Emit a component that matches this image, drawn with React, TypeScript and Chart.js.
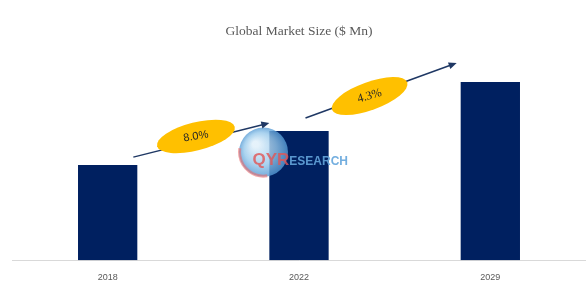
import React, { useEffect, useRef } from "react";
import { Chart, registerables } from "chart.js";

Chart.register(...registerables);

const categories = ["2018", "2022", "2029"];
const marketSize = [95, 129, 178];
const growthLabels = ["8.0%", "4.3%"];
const titleText = "Global Market Size ($ Mn)";

const NAVY = "#002060";
const GOLD = "#FFC000";

function arrow(ctx: CanvasRenderingContext2D, x1: number, y1: number, x2: number, y2: number) {
  const ang = Math.atan2(y2 - y1, x2 - x1);
  ctx.save();
  ctx.strokeStyle = "#1F3864";
  ctx.fillStyle = "#1F3864";
  ctx.lineWidth = 1.5;
  ctx.beginPath();
  ctx.moveTo(x1, y1);
  ctx.lineTo(x2 - 6 * Math.cos(ang), y2 - 6 * Math.sin(ang));
  ctx.stroke();
  ctx.translate(x2, y2);
  ctx.rotate(ang);
  ctx.beginPath();
  ctx.moveTo(0, 0);
  ctx.lineTo(-8, -3.5);
  ctx.lineTo(-8, 3.5);
  ctx.closePath();
  ctx.fill();
  ctx.restore();
}

function bubble(ctx: CanvasRenderingContext2D, cx: number, cy: number, ang: number, text: string, font: string, textAng: number) {
  ctx.save();
  ctx.translate(cx, cy);
  ctx.rotate(ang);
  ctx.fillStyle = GOLD;
  ctx.beginPath();
  ctx.ellipse(0, 0, 40, 14, 0, 0, Math.PI * 2);
  ctx.fill();
  ctx.restore();
  ctx.save();
  ctx.translate(cx, cy);
  ctx.rotate(textAng);
  ctx.fillStyle = "#262626";
  ctx.font = font;
  ctx.textAlign = "center";
  ctx.textBaseline = "middle";
  ctx.fillText(text, 0, 0);
  ctx.restore();
}

const overlayPlugin = {
  id: "overlay",
  afterDatasetsDraw(chart: any) {
    const ctx: CanvasRenderingContext2D = chart.ctx;
    const els = chart.getDatasetMeta(0).data;
    if (!els || els.length < 3) return;
    const area = chart.chartArea;
    const b = els.map((e: any) => ({ x: e.x, top: e.y, left: e.x - e.width / 2, right: e.x + e.width / 2 }));

    // watermark
    const wx = (area.left + area.right) / 2 - 35.5;
    const wy = (area.top + area.bottom) / 2 - 8;
    ctx.save();
    const g = ctx.createRadialGradient(wx - 8, wy - 8, 3, wx, wy, 25);
    g.addColorStop(0, "rgba(225,240,250,0.85)");
    g.addColorStop(0.6, "rgba(150,200,235,0.8)");
    g.addColorStop(1, "rgba(80,150,210,0.8)");
    ctx.fillStyle = g;
    ctx.beginPath();
    ctx.arc(wx, wy, 24.5, 0, Math.PI * 2);
    ctx.fill();
    ctx.strokeStyle = "rgba(235,110,110,0.6)";
    ctx.lineWidth = 3;
    ctx.beginPath();
    ctx.arc(wx, wy, 24, Math.PI * 0.45, Math.PI * 1.05);
    ctx.stroke();
    ctx.textBaseline = "alphabetic";
    ctx.textAlign = "left";
    ctx.font = "bold 17px 'Liberation Sans', Arial, sans-serif";
    ctx.fillStyle = "rgba(225,85,85,0.8)";
    ctx.fillText("QYR", wx - 11, wy + 13);
    const qw = ctx.measureText("QYR").width;
    ctx.font = "bold 12px 'Liberation Sans', Arial, sans-serif";
    ctx.fillStyle = "rgba(100,165,220,0.9)";
    ctx.fillText("ESEARCH", wx - 11 + qw, wy + 13);
    ctx.restore();

    // arrows
    const a1 = [b[0].right - 4, b[0].top - 8, b[1].left, b[1].top - 8];
    const a2 = [b[1].x + 6.5, b[1].top - 13, b[2].left - 4, b[2].top - 19];
    arrow(ctx, a1[0], a1[1], a1[2], a1[3]);
    arrow(ctx, a2[0], a2[1], a2[2], a2[3]);

    const ang1 = Math.atan2(a1[3] - a1[1], a1[2] - a1[0]);
    const ang2 = Math.atan2(a2[3] - a2[1], a2[2] - a2[0]);
    const t1 = 0.46, t2 = 0.424;
    bubble(ctx, a1[0] + (a1[2] - a1[0]) * t1, a1[1] + (a1[3] - a1[1]) * t1 - 5, ang1, growthLabels[0], "11px 'Liberation Sans', Arial, sans-serif", ang1 * 0.7);
    bubble(ctx, a2[0] + (a2[2] - a2[0]) * t2, a2[1] + (a2[3] - a2[1]) * t2 + 1.3, ang2, growthLabels[1], "12px 'Liberation Serif', serif", ang2 * 0.8);
  },
};

export default function App() {
  const ref = useRef<HTMLCanvasElement | null>(null);
  useEffect(() => {
    if (!ref.current) return;
    const chart = new Chart(ref.current, {
      type: "bar",
      data: {
        labels: categories,
        datasets: [
          {
            data: marketSize,
            backgroundColor: NAVY,
            categoryPercentage: 1,
            barPercentage: 0.31,
          },
        ],
      },
      options: {
        animation: false,
        responsive: true,
        maintainAspectRatio: false,
        layout: { padding: { left: 12, right: 0, top: 0, bottom: 17 } },
        plugins: {
          legend: { display: false },
          tooltip: { enabled: false },
          title: {
            display: true,
            text: titleText,
            color: "#595959",
            font: { family: "'Liberation Serif', serif", size: 13.5, weight: "normal" },
            padding: { top: 23.6, bottom: 20.2 },
          },
        },
        scales: {
          x: {
            grid: { display: false },
            border: { display: true, color: "#d9d9d9", width: 1 },
            ticks: {
              color: "#595959",
              padding: 4,
              font: { family: "'Liberation Sans', Arial, sans-serif", size: 9 },
            },
          },
          y: { display: false, min: 0, max: 200 },
        },
      },
      plugins: [overlayPlugin],
    });
    return () => chart.destroy();
  }, []);
  return (
    <div style={{ position: "absolute", left: 0, top: 0, width: 586, height: 304, background: "#fff" }}>
      <canvas ref={ref} />
    </div>
  );
}
